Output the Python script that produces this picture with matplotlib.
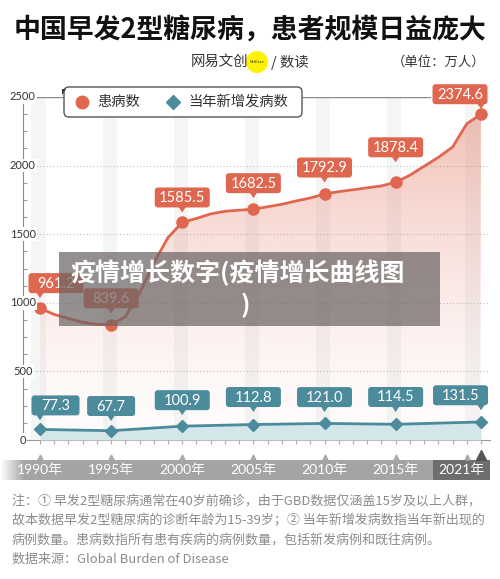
import numpy as np
import matplotlib
matplotlib.use("Agg")
import matplotlib.pyplot as plt
from matplotlib.patches import FancyBboxPatch, Polygon, Rectangle, Circle, PathPatch
from matplotlib.lines import Line2D
from matplotlib.transforms import Affine2D, ScaledTranslation, blended_transform_factory
from matplotlib.colors import to_rgb

plt.rcParams["font.family"] = ["Noto Sans CJK SC", "DejaVu Sans"]

# data
years = np.arange(1990, 2022)
patients = [961.2, 915, 886, 858, 843, 839.6, 899, 1070, 1290, 1476,
            1585.5, 1615, 1648, 1667, 1675, 1682.5, 1700, 1718, 1742, 1764,
            1792.9, 1810, 1824, 1838, 1852, 1878.4, 1930, 1995, 2060, 2135,
            2305, 2374.6]
marker_years = [1990, 1995, 2000, 2005, 2010, 2015, 2021]
patient_marks = [961.2, 839.6, 1585.5, 1682.5, 1792.9, 1878.4, 2374.6]
new_cases = [77.3, 67.7, 100.9, 112.8, 121.0, 114.5, 131.5]
year_labels = ["1990年", "1995年", "2000年", "2005年", "2010年", "2015年", "2021年"]
ytick_vals = [0, 500, 1000, 1500, 2000, 2500]

title = "中国早发2型糖尿病，患者规模日益庞大"
notes = [
    "注：① 早发2型糖尿病通常在40岁前确诊，由于GBD数据仅涵盖15岁及以上人群，",
    "故本数据早发2型糖尿病的诊断年龄为15-39岁；② 当年新增发病数指当年新出现的",
    "病例数量。患病数指所有患有疾病的病例数量，包括新发病例和既往病例。",
    "数据来源：Global Burden of Disease",
]

RED = "#e0674f"
BLUE = "#4b8b9c"

# label offsets in pixels (box centre relative to point)
red_dx = [16, 0, 0, 0, 0, 0, -21]
red_dy = [25, 26.5, 25, 26, 26.5, 35, 20]
blue_dx = [15.5, 0, 0, 0, 0, 0, -20.5]
blue_dy = [24, 24.7, 26, 27.5, 26.3, 27.3, 26.7]
year_dx = [0, 0, 0, 0, 0, 0, -20]

fig = plt.figure(figsize=(5, 5.79), dpi=100)
PX = Affine2D().scale(1 / 500, -1 / 579).translate(0, 1) + fig.transFigure

ax = fig.add_axes([22.7 / 500, 139 / 579, 467.3 / 500, 343 / 579])
ax.set_xlim(1990 - 17.3 / 14.226, 1990 + 450 / 14.226)
ax.set_ylim(0, 2500)

# background stripes
band_years = [1990, 1995, 2000, 2005, 2010, 2015, 2020.5]
for yr in band_years:
    ax.axvspan(yr - 0.6, yr + 0.4, color="#f4f6f6", lw=0, zorder=0)

for v in ytick_vals[1:-1]:
    ax.axhline(v, color="#c4c4c4", lw=0.8, ls=(0, (1, 2)), zorder=1)
ax.axhline(2500, xmin=0, xmax=0.872, color="#8a8a8a", lw=1, zorder=1)

# red area with vertical gradient
poly = ax.fill_between(years, patients, 0, color="none", lw=0)
clip = PathPatch(poly.get_paths()[0], transform=ax.transData, fc="none", ec="none")
ax.add_patch(clip)
g = np.linspace(0, 1, 256)
grad = np.zeros((256, 1, 4))
grad[:, 0, :3] = to_rgb(RED)
grad[:, 0, 3] = 0.02 + 0.42 * g ** 1.5
xl = ax.get_xlim()
im = ax.imshow(grad, origin="lower", extent=[xl[0], xl[1], 0, 2500], aspect="auto", zorder=2)
im.set_clip_path(clip)

ax.fill_between(marker_years, new_cases, 0, color="#d3e7eb", lw=0, zorder=3)

ax.plot(years, patients, color=RED, lw=2, zorder=4)
ax.plot(marker_years, patient_marks, "o", color=RED, ms=8, zorder=5)
ax.plot(marker_years, new_cases, color=BLUE, lw=2, zorder=4)
ax.plot(marker_years, new_cases, "D", color=BLUE, ms=6.5, zorder=5)


def tag(x, y, txt, color, dx, dy):
    tr = fig.dpi_scale_trans + ScaledTranslation(x, y, ax.transData)
    w = 48 if len(txt) <= 4 else 55
    h = 20
    cx, cy = dx / 100, dy / 100
    bot = cy - h / 200
    ax.add_patch(FancyBboxPatch((cx - w / 200, bot), w / 100, h / 100,
                                boxstyle="round,pad=0,rounding_size=0.03",
                                transform=tr, fc=color, ec="none", zorder=9, clip_on=False))
    ax.add_patch(Polygon([(-0.04, bot + 0.01), (0.04, bot + 0.01), (0, bot - 0.05)],
                         closed=True, transform=tr, fc=color, ec="none", zorder=9, clip_on=False))
    ax.text(cx, cy - 0.005, txt, transform=tr, ha="center", va="center", color="white",
            fontsize=10.5, family="Lato", zorder=10, clip_on=False)


for i, yr in enumerate(marker_years):
    tag(yr, patient_marks[i], f"{patient_marks[i]:.1f}", RED, red_dx[i], red_dy[i])
    tag(yr, new_cases[i], f"{new_cases[i]:.1f}", BLUE, blue_dx[i], blue_dy[i])

# axes styling
for s in ["top", "right"]:
    ax.spines[s].set_visible(False)
ax.spines["left"].set_color("#8a8a8a")
ax.spines["bottom"].set_color("#9a9a9a")
ax.set_xticks(years)
ax.set_xticklabels([])
ax.tick_params(axis="x", direction="out", length=3, color="#aaaaaa")
ax.set_yticks(np.arange(0, 2501, 125))
ax.set_yticklabels([])
ax.tick_params(axis="y", direction="in", length=3, color="#999999")
ylab_tr = blended_transform_factory(ax.transAxes, ax.transData)
for v in ytick_vals:
    ax.text(0, v, str(v), transform=ylab_tr, ha="center", va="center", fontsize=8,
            color="#333333", family="Lato", zorder=12, clip_on=False,
            bbox=dict(fc="white", ec="none", pad=1))

# legend
fig.add_artist(FancyBboxPatch((64, 87), 238, 30, boxstyle="round,pad=0,rounding_size=5",
                              transform=PX, fc="white", ec="#555555", lw=1, zorder=3))
fig.add_artist(Polygon([(62, 89), (66, 89), (62, 95)], closed=True, transform=PX,
                       fc="#333333", ec="none", zorder=3))
fig.add_artist(Line2D([82], [102], marker="o", ms=9, color=RED, ls="none", transform=PX, zorder=4))
fig.add_artist(Line2D([173], [102], marker="D", ms=7.5, color=BLUE, ls="none", transform=PX, zorder=4))
fig.text(97, 102, "患病数", transform=PX, ha="left", va="center", fontsize=10.3, color="#333333", zorder=4)
fig.text(188, 102, "当年新增发病数", transform=PX, ha="left", va="center", fontsize=10.3, color="#333333", zorder=4)

# title and subtitle
fig.text(250, 30, title, transform=PX, ha="center", va="center", fontsize=19.4,
         weight="bold", color="#111111")
fig.text(248, 62, "网易文创", transform=PX, ha="right", va="center", fontsize=10.4, color="#333333")
fig.add_artist(Circle((257, 62), 11, transform=PX, fc="#fff200", ec="none"))
fig.text(257, 62, "NetEase", transform=PX, ha="center", va="center", fontsize=2.5, color="#333333",
         family="DejaVu Sans")
fig.text(271, 62, "/ 数读", transform=PX, ha="left", va="center", fontsize=10.4, color="#333333")
fig.text(485, 62, "（单位：万人）", transform=PX, ha="right", va="center", fontsize=9.6, color="#333333")

# year band
bax = fig.add_axes([0, 99 / 579, 490 / 500, 20 / 579])
ramp = np.zeros((1, 490, 4))
ramp[0, :, :3] = to_rgb("#a4a4a4")
ramp[0, :, 3] = np.clip(np.arange(490) / 24, 0, 1)
bax.imshow(ramp, aspect="auto", extent=[0, 490, 0, 1])
bax.axis("off")
fig.add_artist(Rectangle((433, 460), 57, 20, transform=PX, fc="#6e6e6e", ec="none", zorder=2))
btr = blended_transform_factory(ax.transData, PX)
for yr, lab, dx in zip(marker_years, year_labels, year_dx):
    t = fig.dpi_scale_trans + ScaledTranslation(yr, 470, btr)
    fig.text(dx / 100, 0, lab, transform=t, ha="center", va="center", fontsize=10,
             color="white", family=["Lato", "Noto Sans CJK SC"], zorder=5)
fig.add_artist(Line2D([1990, 1995, 2000, 2005, 2010, 2015, 2020], [456.5] * 7, marker="^", ms=3.5,
                      color="#aaaaaa", ls="none", transform=btr, zorder=5))
fig.add_artist(Line2D([2021], [454.5], marker="^", ms=7, color="#555555", ls="none",
                      transform=btr, zorder=5))

# notes
for i, line in enumerate(notes):
    fig.text(12, 501.7 + i * 19.2, line, transform=PX, ha="left", va="center",
             fontsize=9.4, color="#8c8c8c")

# watermark overlay
fig.add_artist(Rectangle((59, 252), 381, 74, transform=PX, fc="#6c6565", alpha=0.72,
                         ec="none", zorder=20))
fig.text(70, 273, "疫情增长数字(疫情增长曲线图", transform=PX, ha="left", va="center",
         fontsize=18, weight="bold", color="white", zorder=21)
fig.text(245, 305, ")", transform=PX, ha="center", va="center",
         fontsize=18, weight="bold", color="white", zorder=21)

fig.savefig("out.png", dpi=100)
